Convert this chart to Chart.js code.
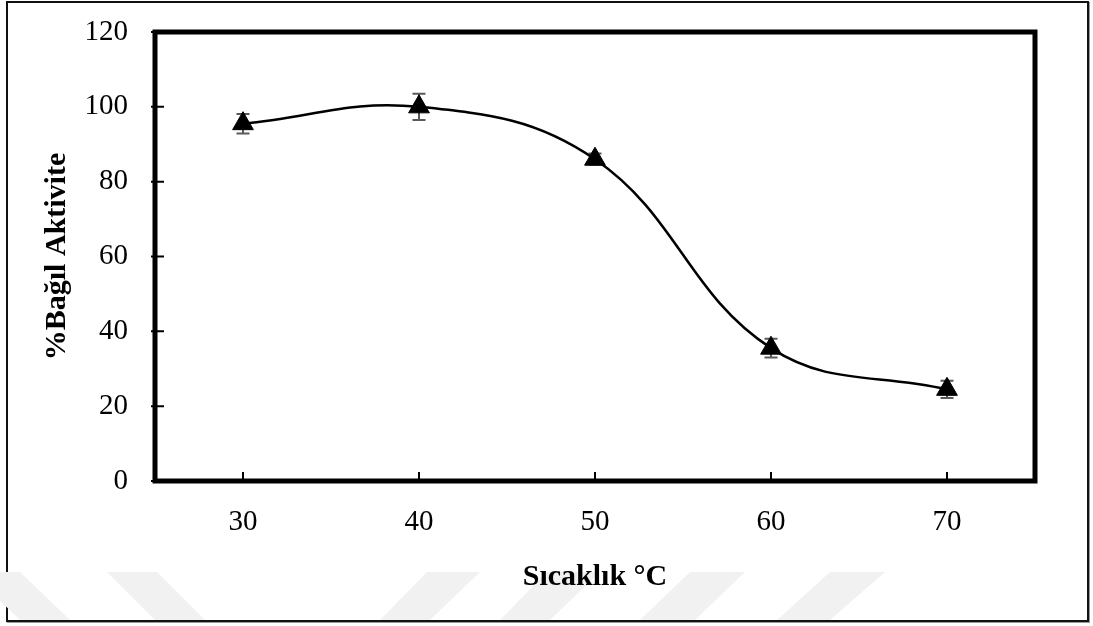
<!DOCTYPE html>
<html>
<head>
<meta charset="utf-8">
<title>Sıcaklık etkisi</title>
<script src="https://cdn.jsdelivr.net/npm/chart.js@4/dist/chart.umd.min.js"></script>
<style>
  html, body { margin: 0; padding: 0; background: #fff; }
  #wrap { position: relative; width: 1093px; height: 626px; }
  #frame { position: absolute; left: 6px; top: 1px; width: 1079px; height: 617px; border: 2px solid #111; box-shadow: 1px 1px 0 #999; }
  #chart { position: absolute; left: 0; top: 0; }
</style>
</head>
<body>
<div id="wrap">
  <div id="frame"></div>
  <canvas id="chart" width="1093" height="626"></canvas>
</div>
<script>
// temperature (°C) vs relative activity (%)
const temps = [30, 40, 50, 60, 70];
const activity = [95.5, 100, 86, 35.5, 24.5];
const activityErr = [2.6, 3.5, 1.5, 2.5, 2.3];
const xTicks = [30, 40, 50, 60, 70];
const yTicks = [0, 20, 40, 60, 80, 100, 120];

const serif = "'Liberation Serif', 'Times New Roman', serif";

// faint diagonal stripes along the bottom of the frame
const stripes = {
  id: "stripes",
  beforeDraw(chart) {
    const ctx = chart.ctx;
    const y0 = 572, y1 = 620;
    const bands = [
      [-30, 20, 20, 70], [107, 157, 155, 205],
      [427, 480, 380, 430], [547, 600, 500, 550],
      [690, 745, 640, 695], [830, 885, 777, 830]
    ];
    ctx.save();
    ctx.fillStyle = "#f1f1f1";
    bands.forEach(b => {
      ctx.beginPath();
      ctx.moveTo(b[0], y0);
      ctx.lineTo(b[1], y0);
      ctx.lineTo(b[3], y1);
      ctx.lineTo(b[2], y1);
      ctx.closePath();
      ctx.fill();
    });
    ctx.restore();
  }
};

// vertical error bars with caps, drawn under the markers
const errorBars = {
  id: "errorBars",
  beforeDatasetsDraw(chart) {
    const ctx = chart.ctx;
    const xs = chart.scales.x, ys = chart.scales.y;
    ctx.save();
    ctx.strokeStyle = "#5a5a5a";
    ctx.lineWidth = 2;
    temps.forEach((t, i) => {
      const x = xs.getPixelForValue(t);
      const top = ys.getPixelForValue(activity[i] + activityErr[i]);
      const bot = ys.getPixelForValue(activity[i] - activityErr[i]);
      ctx.beginPath();
      ctx.moveTo(x, top); ctx.lineTo(x, bot);
      ctx.moveTo(x - 6.5, top); ctx.lineTo(x + 6.5, top);
      ctx.moveTo(x - 6.5, bot); ctx.lineTo(x + 6.5, bot);
      ctx.stroke();
    });
    ctx.restore();
  }
};

// heavy box around the plot area plus inward tick marks
const plotBox = {
  id: "plotBox",
  afterDraw(chart) {
    const ctx = chart.ctx;
    const a = chart.chartArea;
    const xs = chart.scales.x, ys = chart.scales.y;
    ctx.save();
    ctx.strokeStyle = "#000";
    ctx.lineWidth = 2;
    ctx.beginPath();
    yTicks.forEach(v => {
      const y = ys.getPixelForValue(v);
      ctx.moveTo(a.left - 4, y); ctx.lineTo(a.left + 9, y);
    });
    xTicks.forEach(v => {
      const x = xs.getPixelForValue(v);
      ctx.moveTo(x, a.bottom); ctx.lineTo(x, a.bottom - 9);
    });
    ctx.stroke();
    ctx.lineWidth = 5;
    ctx.strokeRect(a.left, a.top, a.right - a.left, a.bottom - a.top);
    ctx.restore();
  }
};

new Chart(document.getElementById("chart"), {
  type: "scatter",
  data: {
    datasets: [{
      data: temps.map((t, i) => ({ x: t, y: activity[i] })),
      showLine: true,
      borderColor: "#000",
      borderWidth: 2.5,
      tension: 0.4,
      pointStyle: "triangle",
      pointRadius: 12,
      pointHoverRadius: 12,
      pointBackgroundColor: "#000",
      pointBorderColor: "#000",
      pointBorderWidth: 1
    }]
  },
  options: {
    responsive: false,
    animation: false,
    layout: { padding: { left: 0, top: 32, right: 58, bottom: 0 } },
    plugins: {
      legend: { display: false },
      tooltip: { enabled: false }
    },
    scales: {
      x: {
        type: "linear",
        min: 25,
        max: 75,
        afterBuildTicks: scale => { scale.ticks = xTicks.map(v => ({ value: v })); },
        afterFit: scale => {
          scale.height = 145;
          scale.paddingLeft = 0;
          scale.paddingRight = 0;
        },
        grid: { display: false, drawTicks: false },
        border: { display: false },
        ticks: { color: "#000", padding: 24, font: { family: serif, size: 29 } },
        title: {
          display: true,
          text: "Sıcaklık °C",
          color: "#000",
          padding: { top: 0, bottom: 31 },
          font: { family: serif, size: 30, weight: "bold" }
        }
      },
      y: {
        min: 0,
        max: 120,
        afterBuildTicks: scale => { scale.ticks = yTicks.map(v => ({ value: v })); },
        afterFit: scale => {
          scale.width = 155;
          scale.paddingTop = 0;
          scale.paddingBottom = 0;
        },
        grid: { display: false, drawTicks: false },
        border: { display: false },
        ticks: { color: "#000", padding: 27, font: { family: serif, size: 29 } },
        title: {
          display: true,
          text: "%Bağıl Aktivite",
          color: "#000",
          padding: { top: 39, bottom: 0 },
          font: { family: serif, size: 30, weight: "bold" }
        }
      }
    }
  },
  plugins: [stripes, errorBars, plotBox]
});
</script>
</body>
</html>
